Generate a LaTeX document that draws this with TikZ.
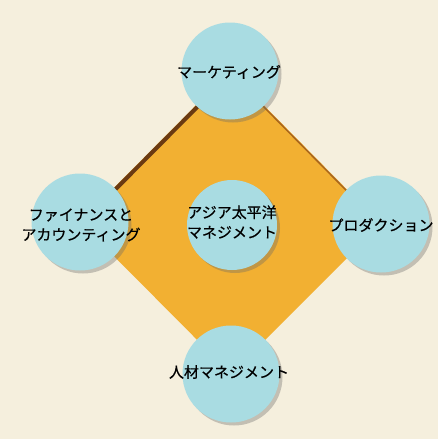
\documentclass[tikz,border=0pt]{standalone}
\usepackage{fontspec}
\setmainfont{Noto Sans CJK JP}[FakeBold=0.5]
\usetikzlibrary{shadows,calc}
\definecolor{bgcream}{HTML}{F5EFDD}
\definecolor{diamondorange}{HTML}{F2B032}
\definecolor{edgebrown}{HTML}{6A3A12}
\definecolor{edgebrownlight}{HTML}{A8651E}
\definecolor{circleblue}{HTML}{A9DCE2}
\tikzset{
  topic/.style={circle, fill=circleblue, minimum size=97pt, inner sep=0pt,
    drop shadow={shadow xshift=3pt, shadow yshift=-3pt, opacity=0.35, fill=black!60}},
  hub/.style={topic, minimum size=90pt},
  lbl/.style={font=\fontsize{15}{20}\selectfont, align=center, inner sep=0pt}
}
\begin{document}
\begin{tikzpicture}[x=1pt,y=-1pt]
\fill[bgcream] (0,0) rectangle (438,439);
\useasboundingbox (0,0) rectangle (438,439);
\coordinate (T) at (230,71);
\coordinate (L) at (80,222);
\coordinate (R) at (381,224);
\coordinate (B) at (231,374);
\fill[diamondorange] (T) -- (R) -- (B) -- (L) -- cycle;
\draw[edgebrown, line width=4pt] ($(T)+(1.5,1.5)$) -- ($(L)+(1.5,1.5)$);
\draw[edgebrownlight, line width=1.5pt] ($(T)+(-0.8,0.8)$) -- ($(R)+(-0.8,0.8)$);
\node[topic] (mk) at (T) {};
\node[topic] (fa) at (L) {};
\node[topic] (pr) at (R) {};
\node[topic] (hr) at (B) {};
\node[hub] (ap) at (232,225) {};
\node[lbl] (mkt) at (229,72) {マーケティング};
\node[lbl] (fat) at (81,225) {ファイナンスと\\アカウンティング};
\node[lbl] (prt) at (381,225) {プロダクション};
\node[lbl] (hrt) at (229,372) {人材マネジメント};
\node[lbl] (apt) at (232,222) {アジア太平洋\\マネジメント};
\end{tikzpicture}
\end{document}
